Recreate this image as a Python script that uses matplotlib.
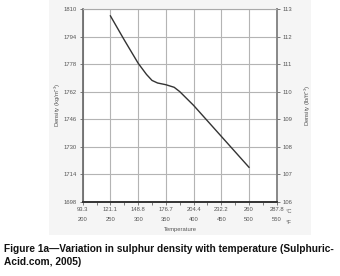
import matplotlib
matplotlib.use("Agg")
import matplotlib.pyplot as plt
from matplotlib.patches import Rectangle
from matplotlib.ticker import MultipleLocator

plt.rcParams['font.family'] = ['Liberation Sans', 'DejaVu Sans']
plt.rcParams['mathtext.default'] = 'regular'

# Data: temperature (°F) vs density (kg/m3)
temp_f = [250, 275, 300, 315, 325, 335, 350, 365, 375, 400, 450, 500]
density = [1806, 1792, 1778.5, 1772, 1768.5, 1767, 1766, 1764.5, 1762, 1754, 1736, 1718]

xticks_f = [200, 250, 300, 350, 400, 450, 500, 550]
xticks_c = ["93.3", "121.1", "148.8", "176.7", "204.4", "232.2", "260", "287.8"]
yticks_kg = [1698, 1714, 1730, 1746, 1762, 1778, 1794, 1810]
yticks_lb = [106, 107, 108, 109, 110, 111, 112, 113]

W, H = 340, 276
FS = 4.2
TC = '#555555'
fig = plt.figure(figsize=(W / 100, H / 100), dpi=100)
bg = Rectangle((49 / W, 1 - 235 / H), (311 - 49) / W, 235 / H,
               transform=fig.transFigure, facecolor='#f5f5f5',
               edgecolor='none', zorder=-10)
fig.add_artist(bg)

ax = fig.add_axes([82.7 / W, 1 - 201.7 / H, (276.7 - 82.7) / W, (201.7 - 9) / H])
ax.set_zorder(1)
ax.set_facecolor('white')
ax.plot(temp_f, density, color='#333333', lw=1.0, zorder=3)
ax.set_xlim(200, 550)
ax.set_ylim(1698, 1810)
ax.set_yticks(yticks_kg)
ax.set_xticks(xticks_f)
ax.set_xticklabels([f"{c}\n\n{f}" for c, f in zip(xticks_c, xticks_f)], linespacing=0.95)
ax.xaxis.set_minor_locator(MultipleLocator(25))
ax.grid(True, color='#b4b4b4', lw=0.8)
ax.tick_params(axis='both', which='both', labelsize=FS, labelcolor=TC,
               color='#666666', length=2, width=0.6, pad=2)
ax.tick_params(axis='x', which='minor', length=2)
ax.set_axisbelow(True)

for side, col, lw in [('left', '#666666', 1.2), ('bottom', '#333333', 1.4),
                      ('right', '#888888', 1.4), ('top', '#aaaaaa', 0.8)]:
    ax.spines[side].set_color(col)
    ax.spines[side].set_linewidth(lw)

ax2 = ax.twinx()
ax2.set_zorder(2)
ax2.patch.set_visible(False)
ax2.set_ylim(106, 113)
ax2.set_yticks(yticks_lb)
ax2.tick_params(axis='y', labelsize=FS, labelcolor=TC, color='#666666',
                length=2, width=0.6, pad=2)
for s in ax2.spines.values():
    s.set_visible(False)

fig.text(57.5 / W, 1 - 105 / H, r"Density (kg/m$^{-3}$)", rotation=90,
         ha='center', va='center', fontsize=FS, color=TC)
fig.text(308 / W, 1 - 105 / H, r"Density (lb/ft$^{-3}$)", rotation=90,
         ha='center', va='center', fontsize=FS, color=TC)
fig.text(180 / W, 1 - 230 / H, "Temperature", ha='center', va='center',
         fontsize=FS, color=TC)
fig.text(286 / W, 1 - 211.7 / H, "°C", ha='left', va='center', fontsize=FS, color=TC)
fig.text(286 / W, 1 - 222.3 / H, "°F", ha='left', va='center', fontsize=FS, color=TC)

fig.text(4 / W, 1 - 255.5 / H,
         "Figure 1a\u2014Variation in sulphur density with temperature (Sulphuric-\nAcid.com, 2005)",
         ha='left', va='center', fontsize=7.3, fontweight='bold', color='#111111',
         linespacing=1.45)

fig.savefig("out.png", dpi=100)
